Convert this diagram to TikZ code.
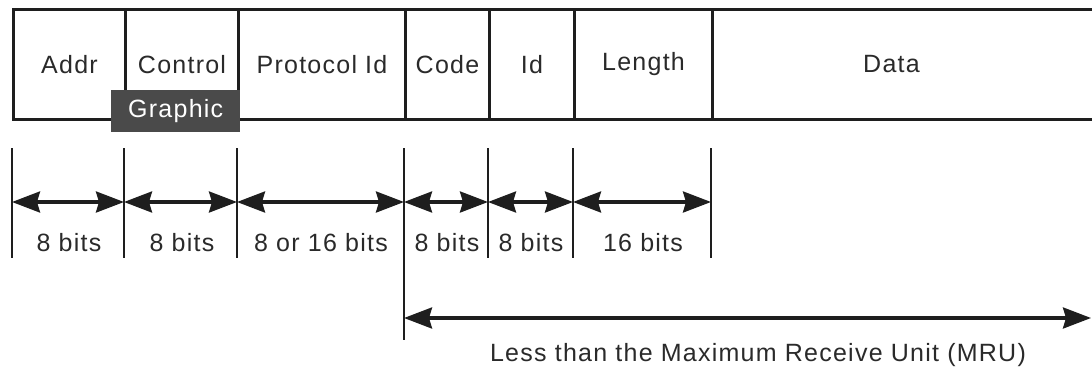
\documentclass[tikz,border=0pt]{standalone}
\usepackage{fontspec}
\setmainfont[LetterSpace=5]{Liberation Sans}
\usetikzlibrary{arrows.meta}
\definecolor{ink}{HTML}{1E1E1E}
\definecolor{txt}{HTML}{2A2A2A}
\definecolor{tagbg}{HTML}{4A4A4A}
\begin{document}
\begin{tikzpicture}[x=1pt,y=-1pt,
  field/.style={draw=ink, line width=3pt, minimum height=110pt, inner sep=0pt,
    anchor=north west, text=txt, font=\fontsize{25}{29}\selectfont},
  tag/.style={fill=tagbg, text=white, minimum width=129pt, minimum height=42pt,
    inner sep=0pt, anchor=north west, font=\fontsize{25}{29}\selectfont},
  tick/.style={draw=ink, line width=2.8pt},
  dim/.style={draw=ink, line width=3.2pt,
    {Stealth[length=28pt,width=21pt,inset=3pt]}-{Stealth[length=28pt,width=21pt,inset=3pt]}},
  lbl/.style={text=txt, font=\fontsize{25}{29}\selectfont, inner sep=0pt}]
\useasboundingbox (0,0) rectangle (1092,372);

% frame fields
\node[field, minimum width=112pt] (addr) at (12,8) {Addr};
\node[field, minimum width=113pt] (ctrl) at (124,8) {Control};
\node[field, minimum width=167pt] (proto) at (237,8) {Protocol Id};
\node[field, minimum width=84pt]  (code) at (404,8) {Code};
\node[field, minimum width=85pt]  (id) at (488,8) {Id};
\node[field, minimum width=138pt] (len) at (573,8) {Length};
\node[field, minimum width=400pt, text width=380pt, align=center] (data) at (711,8) {\hspace*{-42pt}Data};

% tooltip over the Control field
\node[tag] (graphic) at (111,90) {Graphic};

% tick marks under each field boundary
\foreach \n/\x/\b in {0/12/258, 1/124/258, 2/237/258, 3/404/340, 4/488/258, 5/573/258, 6/711/258} {
  \coordinate (top\n) at (\x,148);
  \coordinate (bot\n) at (\x,\b);
  \coordinate (a\n) at (\x,202);
  \draw[tick] (top\n) -- (bot\n);
}

% width arrows
\draw[dim] (a0) -- (a1);
\draw[dim] (a1) -- (a2);
\draw[dim] (a2) -- (a3);
\draw[dim] (a3) -- (a4);
\draw[dim] (a4) -- (a5);
\draw[dim] (a5) -- (a6);

% width labels
\node[lbl] (w0) at (69,243) {8 bits};
\node[lbl] (w1) at (182,243) {8 bits};
\node[lbl] (w2) at (321,243) {8 or 16 bits};
\node[lbl] (w3) at (447,243) {8 bits};
\node[lbl] (w4) at (531,243) {8 bits};
\node[lbl] (w5) at (643,243) {16 bits};

% overall length arrow
\coordinate (m0) at (404,318);
\coordinate (m1) at (1091,318);
\draw[dim] (m0) -- (m1);
\node[lbl] (mru) at (758,355) {Less than the Maximum Receive Unit (MRU)};
\end{tikzpicture}
\end{document}
